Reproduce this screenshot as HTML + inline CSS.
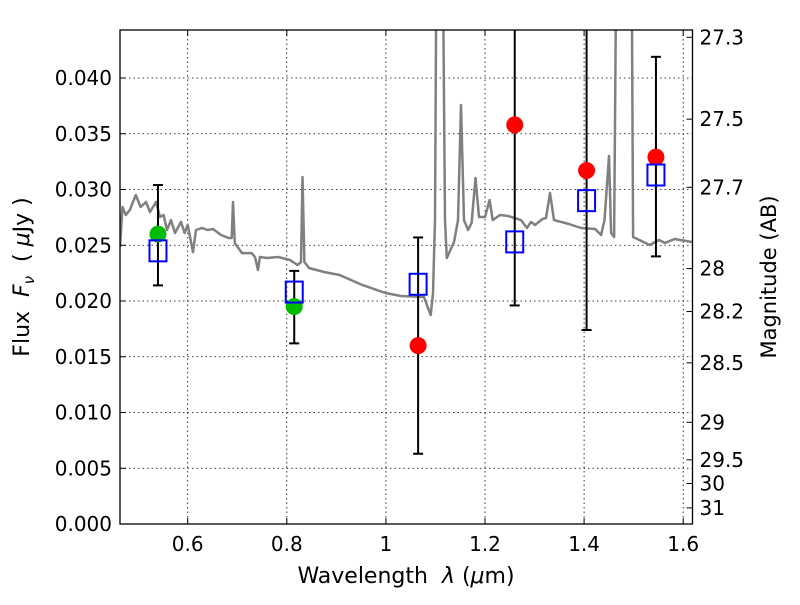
<!DOCTYPE html>
<html><head><meta charset="utf-8"><style>
body{margin:0;background:#fff;}
svg text{font-family:"DejaVu Sans","Liberation Sans",sans-serif;fill:#000;}
</style></head><body>
<svg id="chart" width="800" height="600" xmlns="http://www.w3.org/2000/svg">
<rect width="800" height="600" fill="#fff"/>
<g id="grid"></g>
<g id="spec"></g>
<g id="marks"></g>
<rect x="120" y="30" width="572.5" height="494" fill="none" stroke="#000" stroke-width="1.3"/>
<g id="axes"></g>
<text x="406" y="583" font-size="22" text-anchor="middle">Wavelength&#160;&#160;<tspan font-style="italic">λ</tspan> (<tspan font-style="italic">μ</tspan>m)</text>
<text transform="translate(29,277) rotate(-90)" font-size="22" text-anchor="middle">Flux&#160;&#160;<tspan font-style="italic">F</tspan><tspan font-style="italic" font-size="15" dy="5">ν</tspan><tspan dy="-5">&#160;&#160;(&#160;</tspan><tspan font-style="italic">μ</tspan>Jy&#160;)</text>
<text transform="translate(776,277) rotate(-90)" font-size="21" text-anchor="middle">Magnitude (AB)</text>
</svg>
<script>
const xTicks=[0.6,0.8,1,1.2,1.4,1.6];
const yTicks=[0,0.005,0.010,0.015,0.020,0.025,0.030,0.035,0.040];
const magTicks=[27.3,27.5,27.7,28,28.2,28.5,29,29.5,30,31];
const bandLam=[0.54,0.815,1.065,1.26,1.405,1.545];
const modelFlux=[0.0245,0.0208,0.0215,0.0253,0.0290,0.0313];
const obsFlux=[0.0260,0.0195,0.0160,0.0358,0.0317,0.0329];
const obsType=['green','green','red','red','red','red'];
const errHi=[0.0304,0.0227,0.0257,0.06,0.06,0.0419];
const errLo=[0.0214,0.0162,0.0063,0.0196,0.0174,0.0240];
const specLam=[0.4634,0.4684,0.4751,0.4832,0.4952,0.5049,0.5158,0.5239,0.536,0.544,0.5514,0.5582,0.5663,0.5744,0.5865,0.5937,0.6,0.6107,0.6168,0.6289,0.6402,0.6511,0.6672,0.6825,0.6888,0.6914,0.6951,0.7096,0.729,0.7358,0.7419,0.7457,0.76,0.7822,0.8064,0.8216,0.8287,0.8317,0.8355,0.8448,0.8751,0.9066,0.953,0.9992,1.0305,1.0769,1.0842,1.0904,1.095,1.0991,1.1031,1.1132,1.1193,1.1229,1.1374,1.1455,1.1516,1.1577,1.1658,1.173,1.1808,1.1879,1.2,1.2093,1.2155,1.2303,1.2464,1.2727,1.2848,1.2929,1.301,1.316,1.3231,1.3312,1.3392,1.3695,1.3937,1.4222,1.4343,1.4412,1.4503,1.4545,1.4605,1.4666,1.4948,1.4989,1.5321,1.5512,1.5633,1.5824,1.6178];
const specFlux=[0.02484,0.02843,0.02771,0.02816,0.02951,0.02843,0.02888,0.02798,0.02888,0.02753,0.02771,0.02637,0.02726,0.02610,0.02709,0.02610,0.02682,0.02439,0.02637,0.02655,0.02637,0.02646,0.02592,0.02565,0.02565,0.02888,0.02520,0.02430,0.02430,0.02395,0.02278,0.02395,0.02386,0.02395,0.02368,0.02323,0.02350,0.03112,0.02350,0.02296,0.02260,0.02233,0.02143,0.02072,0.02045,0.02036,0.01946,0.01874,0.02072,0.02726,0.06,0.06,0.02726,0.02386,0.02529,0.02726,0.03758,0.02726,0.02637,0.02700,0.03103,0.02753,0.02753,0.02906,0.02726,0.02771,0.02762,0.02726,0.02655,0.02709,0.02682,0.02735,0.02744,0.02969,0.02726,0.02691,0.02655,0.02646,0.02592,0.02726,0.03300,0.02610,0.02574,0.06,0.06,0.02574,0.02502,0.02547,0.02520,0.02556,0.02529];
const NS='http://www.w3.org/2000/svg';
const L=120,R=692.5,T=30,B=524;
const X=l=>187.7+(l-0.6)*495.5;
const Y=f=>B-f*11150;
function el(tag,attrs,parent){const e=document.createElementNS(NS,tag);for(const k in attrs)e.setAttribute(k,attrs[k]);parent.appendChild(e);return e;}
const grid=document.getElementById('grid'),axes=document.getElementById('axes'),spec=document.getElementById('spec'),marks=document.getElementById('marks');
xTicks.forEach(t=>{const x=X(t);
 const g=el('line',{x1:x,x2:x,y1:T,y2:B,stroke:'#000','stroke-width':0.8,'stroke-dasharray':'1.5,3'},grid);
 
 
 el('line',{x1:x,x2:x,y1:B,y2:B-6,stroke:'#000'},axes);
 el('line',{x1:x,x2:x,y1:T,y2:T+6,stroke:'#000'},axes);
 const tx=el('text',{x:x,y:B+27,'font-size':20,'text-anchor':'middle'},axes);tx.textContent=String(t);
 
 
});
yTicks.forEach(t=>{const y=Y(t);
 const g=el('line',{x1:L,x2:R,y1:y,y2:y,stroke:'#000','stroke-width':0.8,'stroke-dasharray':'1.5,3'},grid);
 
 
 el('line',{x1:L,x2:L+6,y1:y,y2:y,stroke:'#000'},axes);
 const tx=el('text',{x:L-8,y:y+7,'font-size':20,'text-anchor':'end'},axes);tx.textContent=t.toFixed(3);
 
 
});
magTicks.forEach(m=>{const f=Math.pow(10,(23.9-m)/2.5);const y=Y(f);
 el('line',{x1:R,x2:R-6,y1:y,y2:y,stroke:'#000'},axes);
 const tx=el('text',{x:R+7,y:y+7,'font-size':20},axes);tx.textContent=String(m);
 
 
});
el('clipPath',{id:'clip'},spec);el('rect',{x:L,y:T,width:R-L,height:B-T},spec.lastChild);
const pts=specLam.map((l,i)=>X(l).toFixed(1)+','+Y(specFlux[i]).toFixed(1)).join(' ');
const pl=el('polyline',{points:pts,fill:'none',stroke:'#808080','stroke-width':2.5,'clip-path':'url(#clip)','stroke-linejoin':'round'},spec);


marks.setAttribute('clip-path','url(#clip)');
bandLam.forEach((l,i)=>{const x=X(l);
 const eb=el('line',{x1:x,x2:x,y1:Y(errHi[i]),y2:Y(errLo[i]),stroke:'#000','stroke-width':2},marks);
 
 
 [errHi[i],errLo[i]].forEach(v=>el('line',{x1:x-5,x2:x+5,y1:Y(v),y2:Y(v),stroke:'#000','stroke-width':2},marks));
 const c=el('ellipse',{cx:x,cy:Y(obsFlux[i]),rx:8.5,ry:8.5,fill:obsType[i]==='green'?'#00bb00':'#ff0000'},marks);
 
 
 const s=el('rect',{x:x-8.5,y:Y(modelFlux[i])-10.5,width:17,height:21,fill:'none',stroke:'#0000ff','stroke-width':2},marks);
 
 
});
</script>
</body></html>
